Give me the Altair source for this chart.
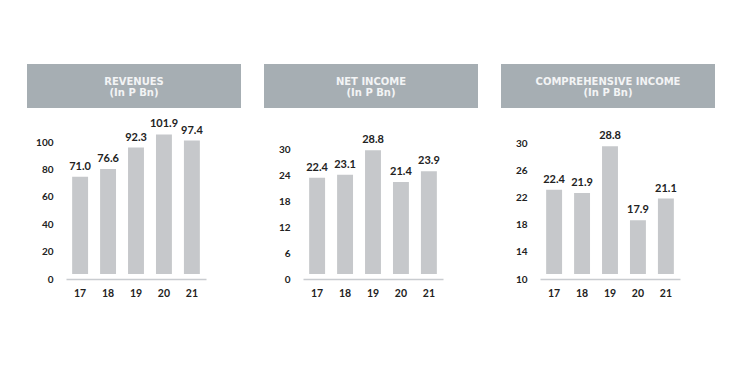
import altair as alt
import pandas as pd

years = ["17", "18", "19", "20", "21"]
revenues = [71.0, 76.6, 92.3, 101.9, 97.4]
net_income = [22.4, 23.1, 28.8, 21.4, 23.9]
comp_income = [22.4, 21.9, 28.8, 17.9, 21.1]

titles = ["REVENUES", "NET INCOME", "COMPREHENSIVE INCOME"]
subtitle = "(In P Bn)"

rev_ticks = [0, 20, 40, 60, 80, 100]
net_ticks = [0, 6, 12, 18, 24, 30]
comp_ticks = [10, 14, 18, 22, 26, 30]

rev_domain = [0, 100]
net_domain = [0, 31.86]
comp_domain = [10, 30.15]

BAR = "#c6c8cb"
HEAD = "#a6aeb3"
INK = "#222222"
W, H = 140, 137


def panel(values, title, ticks, domain):
    df = pd.DataFrame({"year": years, "value": values})
    base = alt.Chart(df)
    x = alt.X("year:N", sort=years, title=None,
              scale=alt.Scale(paddingInner=0.43, paddingOuter=0.22),
              axis=alt.Axis(labelAngle=0, labelFont="Lato", labelFontWeight="bold",
                            labelFontSize=10.5, labelColor=INK, labelPadding=9,
                            ticks=False, domainColor="#c9ccd0", domainWidth=1.3))
    y = alt.Y("value:Q", title=None,
              scale=alt.Scale(domain=domain, nice=False, zero=False),
              axis=alt.Axis(values=ticks, grid=False, domain=False, ticks=False,
                            tickSize=0, labelPadding=13, labelFont="Lato",
                            labelFontWeight="bold", labelFontSize=10,
                            labelColor=INK, labelBaseline="middle",
                            labelOverlap=False))
    bars = base.mark_bar(color=BAR, yOffset=-5, y2Offset=-5).encode(
        x=x, y=y, y2=alt.datum(domain[0]))
    labels = base.mark_text(font="Lato", fontWeight="bold", fontSize=11,
                            color=INK, baseline="alphabetic", dy=-12).encode(
        x=x, y=y, text=alt.Text("value:Q", format=".1f"))
    hdf = pd.DataFrame({"t": [title], "s": [subtitle]})
    hbase = alt.Chart(hdf)
    rect = hbase.mark_rect(color=HEAD).encode(
        x=alt.value(-39), x2=alt.value(175), y=alt.value(-78), y2=alt.value(-34))
    t1 = hbase.mark_text(font="DejaVu Sans", fontWeight="bold", fontSize=10,
                         color="#f3f4f5", baseline="middle").encode(
        x=alt.value(68), y=alt.value(-60.5), text="t:N")
    t2 = hbase.mark_text(font="DejaVu Sans", fontWeight="bold", fontSize=10,
                         color="#f3f4f5", baseline="middle").encode(
        x=alt.value(68), y=alt.value(-49), text="s:N")
    return alt.layer(rect, t1, t2, bars, labels).properties(width=W, height=H)


chart = alt.hconcat(
    panel(revenues, titles[0], rev_ticks, rev_domain),
    panel(net_income, titles[1], net_ticks, net_domain),
    panel(comp_income, titles[2], comp_ticks, comp_domain),
    spacing=97, bounds="flush",
).resolve_scale(y="independent").properties(
    padding={"left": 19, "top": 56, "right": 5, "bottom": 5},
    background="white",
).configure_view(strokeWidth=0, stroke="transparent")

chart.save("out.html", embed_options={"renderer": "svg", "actions": False})
